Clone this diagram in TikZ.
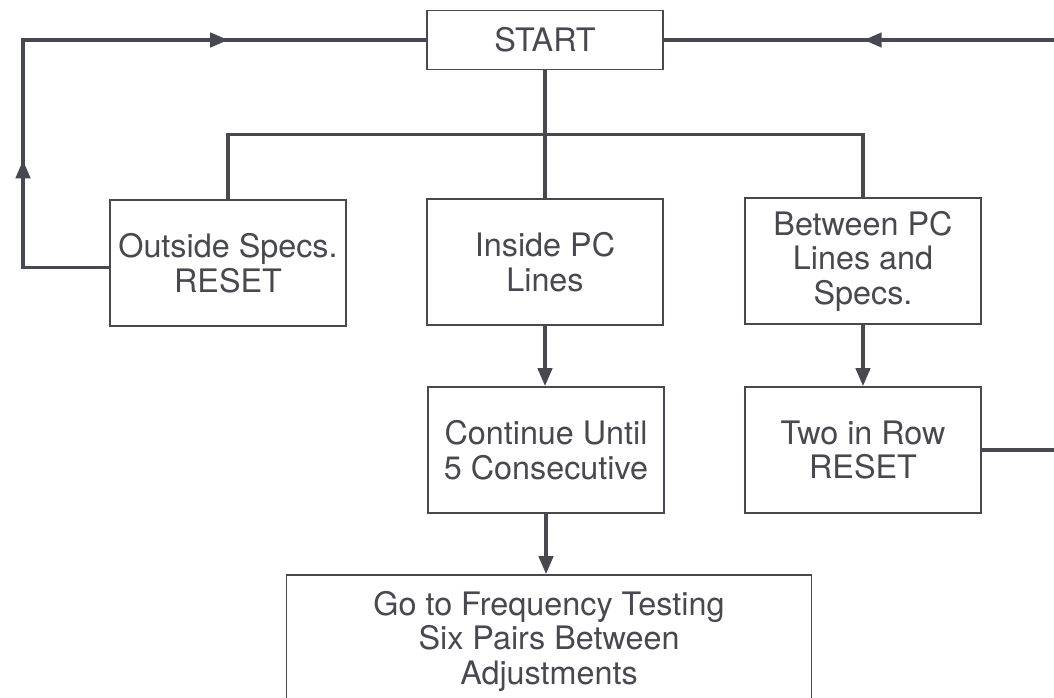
\documentclass[tikz,border=0pt]{standalone}
\usepackage{fontspec}
\setmainfont{TeX Gyre Heros}
\usetikzlibrary{arrows.meta,positioning,calc,decorations.markings}
\definecolor{ink}{RGB}{72,72,80}

\begin{document}
\begin{tikzpicture}[x=0.025cm,y=-0.025cm,
    box/.style={draw=ink,line width=1.3pt,text=ink,font=\fontsize{23}{24.5}\selectfont,
      align=center,minimum width=5.9cm,minimum height=3.15cm,inner sep=0pt},
    link/.style={ink,line width=2.4pt},
    tip/.style={-{Triangle[length=4.5mm,width=3.6mm]}},
    flow/.style={postaction={decorate},decoration={markings,
      mark=at position #1 with {\arrow{Triangle[length=4.5mm,width=3.6mm]}}}},
    flowtwo/.style 2 args={postaction={decorate},decoration={markings,
      mark=at position #1 with {\arrow{Triangle[length=4.5mm,width=3.6mm]}},
      mark=at position #2 with {\arrow{Triangle[length=4.5mm,width=3.6mm]}}}}]
  \useasboundingbox (0,0) rectangle (1054,698);

  \node[box,minimum height=1.475cm] (start) at (545,40) {START};
  \node[box] (outside) at (228,263) {Outside Specs.\\RESET};
  \node[box] (inside) at (545,262) {Inside PC\\Lines};
  \node[box] (between) at (863,261) {Between PC\\Lines and\\Specs.};
  \node[box] (cont) at (546,450) {Continue Until\\5 Consecutive};
  \node[box] (two) at (863,450) {Two in Row\\RESET};
  \node[box,minimum width=13.125cm,minimum height=3.3cm] (go) at (549,641)
    {Go to Frequency Testing\\Six Pairs Between\\Adjustments};

  \coordinate (branch) at ($(start.south)!.5!(inside.north)$);
  \coordinate (leftbend) at (23,40);
  \coordinate (rightbend) at (1058,40);

  \draw[link] (start.south) -- (inside.north);
  \draw[link] (outside.north) |- (branch) -| (between.north);
  \draw[link,tip] (inside.south) -- (inside.south |- cont.north);
  \draw[link,tip] (between.south) -- (two.north);
  \draw[link,tip] (cont.south) -- (cont.south |- go.north);
  \draw[link,flowtwo={0.27}{0.724}] ([yshift=-0.12cm]outside.west) -| (leftbend) -- (start.west);
  \draw[link,flow=0.773] (two.east) -- (two.east -| rightbend) -- (rightbend) -- (start.east);
\end{tikzpicture}
\end{document}
